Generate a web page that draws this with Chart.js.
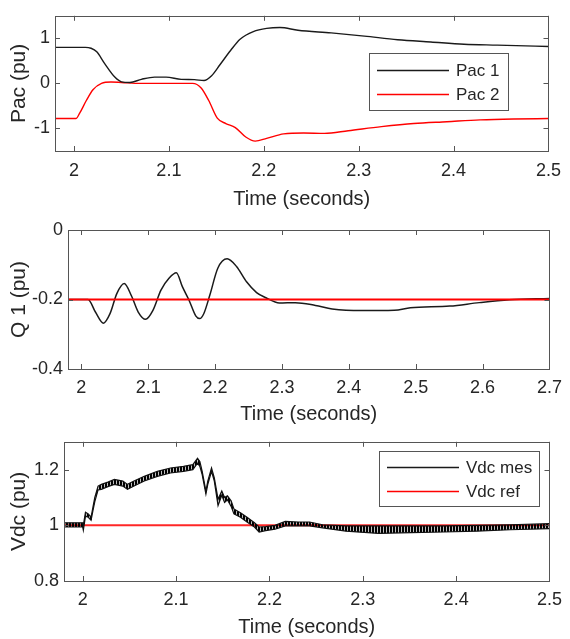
<!DOCTYPE html>
<html>
<head>
<meta charset="utf-8">
<script src="https://cdn.jsdelivr.net/npm/chart.js@4.4.1/dist/chart.umd.min.js"></script>
<title>Pac / Q / Vdc</title>
<style>
  html, body { margin: 0; padding: 0; background: #fff; }
  .panel { position: absolute; left: 0; width: 570px; height: 213px; }
</style>
</head>
<body>
<div class="panel" style="top:0px"><canvas id="c1"></canvas></div>
<div class="panel" style="top:213px"><canvas id="c2"></canvas></div>
<div class="panel" style="top:426px"><canvas id="c3"></canvas></div>
<script>
// ---- data ----
// panel 1 : active power
var pac1Time = [1.98, 2.0, 2.012, 2.018, 2.024, 2.032, 2.043, 2.05, 2.059, 2.071, 2.085, 2.097, 2.113, 2.127, 2.137, 2.145, 2.154, 2.165, 2.175, 2.189, 2.203, 2.217, 2.236, 2.271, 2.306, 2.341, 2.376, 2.411, 2.446, 2.5];
var pac1 = [0.80, 0.80, 0.80, 0.78, 0.70, 0.45, 0.14, 0.035, 0.02, 0.09, 0.14, 0.14, 0.09, 0.084, 0.063, 0.17, 0.42, 0.73, 0.98, 1.15, 1.22, 1.24, 1.18, 1.12, 1.05, 0.97, 0.92, 0.87, 0.85, 0.82];
var pac2Time = [1.98, 2.002, 2.006, 2.013, 2.02, 2.029, 2.039, 2.05, 2.07, 2.1, 2.125, 2.134, 2.142, 2.151, 2.16, 2.17, 2.181, 2.191, 2.203, 2.221, 2.242, 2.264, 2.289, 2.324, 2.358, 2.393, 2.428, 2.463, 2.5];
var pac2 = [-0.78, -0.78, -0.66, -0.38, -0.14, 0.0, 0.03, 0.02, 0.0, 0.0, 0.0, -0.1, -0.38, -0.77, -0.89, -0.98, -1.19, -1.28, -1.22, -1.12, -1.10, -1.11, -1.05, -0.96, -0.89, -0.85, -0.81, -0.79, -0.78];

// panel 2 : reactive power
var q1Time = [1.98, 2.01, 2.021, 2.033, 2.043, 2.053, 2.064, 2.075, 2.085, 2.096, 2.107, 2.119, 2.131, 2.142, 2.151, 2.161, 2.171, 2.177, 2.183, 2.192, 2.204, 2.218, 2.232, 2.247, 2.262, 2.276, 2.296, 2.32, 2.35, 2.375, 2.419, 2.468, 2.492, 2.551, 2.595, 2.64, 2.7];
var q1 = [-0.2, -0.2, -0.236, -0.268, -0.24, -0.183, -0.154, -0.19, -0.236, -0.257, -0.231, -0.173, -0.139, -0.123, -0.163, -0.202, -0.247, -0.255, -0.241, -0.188, -0.11, -0.083, -0.105, -0.149, -0.18, -0.195, -0.21, -0.209, -0.217, -0.227, -0.232, -0.231, -0.224, -0.219, -0.209, -0.201, -0.197];
var qRefTime = [1.98, 2.7];
var qRef = [-0.2, -0.2];

// panel 3 : dc voltage (ripple band: upper / lower envelope)
var vdcTime = [1.98, 2.0, 2.0007, 2.003, 2.006, 2.009, 2.011, 2.013, 2.0165, 2.02, 2.027, 2.034, 2.043, 2.048, 2.055, 2.066, 2.08, 2.094, 2.108, 2.118, 2.123, 2.1255, 2.128, 2.132, 2.134, 2.138, 2.141, 2.145, 2.149, 2.152, 2.155, 2.159, 2.162, 2.169, 2.176, 2.184, 2.189, 2.196, 2.206, 2.217, 2.231, 2.243, 2.257, 2.282, 2.317, 2.352, 2.387, 2.422, 2.458, 2.5];
var vdcHigh = [1.009, 1.009, 1.0, 1.047, 1.041, 1.029, 1.065, 1.10, 1.141, 1.147, 1.155, 1.165, 1.159, 1.147, 1.159, 1.176, 1.194, 1.206, 1.212, 1.218, 1.241, 1.229, 1.194, 1.123, 1.159, 1.206, 1.17, 1.094, 1.123, 1.10, 1.106, 1.088, 1.059, 1.045, 1.029, 1.009, 0.994, 0.995, 1.0, 1.014, 1.012, 1.012, 1.002, 0.998, 0.998, 0.998, 0.998, 1.0, 1.002, 1.006];
var vdcLow = [0.994, 0.994, 0.982, 1.033, 1.029, 1.018, 1.053, 1.085, 1.127, 1.129, 1.139, 1.147, 1.141, 1.129, 1.141, 1.159, 1.176, 1.188, 1.194, 1.20, 1.223, 1.212, 1.182, 1.112, 1.147, 1.194, 1.159, 1.071, 1.108, 1.082, 1.092, 1.068, 1.041, 1.029, 1.012, 0.994, 0.976, 0.981, 0.986, 0.998, 0.998, 0.998, 0.991, 0.979, 0.971, 0.974, 0.976, 0.979, 0.984, 0.988];
var vdcRefTime = [1.98, 2.5];
var vdcRef = [1, 1];

// ticks
var xTicks1 = [2, 2.1, 2.2, 2.3, 2.4, 2.5];
var xTicks2 = [2, 2.1, 2.2, 2.3, 2.4, 2.5, 2.6, 2.7];
var yTicks1 = [-1, 0, 1];
var yTicks2 = [-0.4, -0.2, 0];
var yTicks3 = [0.8, 1, 1.2];

var FONT = "'Liberation Sans', Arial, sans-serif";
var INK = '#262626';
var FRAME = '#555555';

function pts(t, v) {
    return t.map(function (x, i) { return {x: x, y: v[i]}; });
}
function fmt(v) { return String(Number(v.toFixed(2))); }

// dense vertical hatching to look like the switching ripple band
function ripplePattern() {
    var c = document.createElement('canvas');
    c.width = 3; c.height = 4;
    var g = c.getContext('2d');
    g.fillStyle = 'rgba(0,0,0,0.25)';
    g.fillRect(0, 0, 3, 4);
    g.fillStyle = '#000';
    g.fillRect(0, 0, 2, 4);
    return g.createPattern(c, 'repeat');
}

// box around the axes, inward tick marks, legend inside the axes (matlab look)
var boxPlugin = {
    id: 'box',
    afterDatasetsDraw: function (chart) {
        var a = chart.chartArea, ctx = chart.ctx;
        var xs = chart.scales.x, ys = chart.scales.y;
        ctx.save();
        ctx.strokeStyle = FRAME;
        ctx.lineWidth = 1;
        ctx.beginPath();
        xs.ticks.forEach(function (t) {
            var p = Math.round(xs.getPixelForValue(t.value)) + 0.5;
            ctx.moveTo(p, a.bottom); ctx.lineTo(p, a.bottom - 5);
            ctx.moveTo(p, a.top); ctx.lineTo(p, a.top + 5);
        });
        ys.ticks.forEach(function (t) {
            var p = Math.round(ys.getPixelForValue(t.value)) + 0.5;
            ctx.moveTo(a.left, p); ctx.lineTo(a.left + 5, p);
            ctx.moveTo(a.right, p); ctx.lineTo(a.right - 5, p);
        });
        ctx.stroke();
        ctx.strokeRect(Math.round(a.left) + 0.5, Math.round(a.top) + 0.5,
                       Math.round(a.right - a.left), Math.round(a.bottom - a.top));
        ctx.restore();
    },
    afterDraw: function (chart) {
        var lg = chart.options.plugins.box && chart.options.plugins.box.legend;
        if (!lg) return;
        var a = chart.chartArea, ctx = chart.ctx;
        var x0 = a.left + lg.left, y0 = a.top + lg.top;
        ctx.save();
        ctx.fillStyle = '#fff';
        ctx.fillRect(x0, y0, lg.width, lg.height);
        ctx.strokeStyle = FRAME;
        ctx.lineWidth = 1;
        ctx.strokeRect(Math.round(x0) + 0.5, Math.round(y0) + 0.5, lg.width, lg.height);
        ctx.font = '17px ' + FONT;
        ctx.textBaseline = 'middle';
        lg.items.forEach(function (it, i) {
            var y = Math.round(y0 + lg.row0 + i * lg.rowStep) + 0.5;
            ctx.strokeStyle = it.color;
            ctx.lineWidth = 1.3;
            ctx.beginPath();
            ctx.moveTo(x0 + 8, y); ctx.lineTo(x0 + 8 + lg.lineLen, y);
            ctx.stroke();
            ctx.fillStyle = INK;
            ctx.fillText(it.label, x0 + 8 + lg.lineLen + 7, y + 1);
        });
        ctx.restore();
    }
};

function makeChart(id, cfg) {
    return new Chart(document.getElementById(id), {
        type: 'line',
        data: { datasets: cfg.datasets },
        plugins: [boxPlugin],
        options: {
            responsive: true,
            maintainAspectRatio: false,
            animation: false,
            layout: { padding: { top: cfg.top, right: cfg.right, left: 0, bottom: 0 } },
            elements: { point: { radius: 0 } },
            plugins: {
                legend: { display: false },
                tooltip: { enabled: false },
                box: { legend: cfg.legend }
            },
            scales: {
                x: {
                    type: 'linear',
                    min: cfg.xMin, max: cfg.xMax,
                    grid: { display: false, drawTicks: false },
                    border: { display: false },
                    afterBuildTicks: function (s) { s.ticks = cfg.xTicks.map(function (v) { return {value: v}; }); },
                    afterFit: function (s) { s.height = cfg.xHeight; },
                    ticks: { color: INK, font: { family: FONT, size: 18 }, padding: cfg.xTickPad, maxRotation: 0, autoSkip: false,
                             callback: function (v) { return fmt(v); } },
                    title: { display: true, text: 'Time (seconds)', color: INK,
                             font: { family: FONT, size: 20 }, padding: { top: 0, bottom: cfg.xTitlePad } }
                },
                y: {
                    min: cfg.yMin, max: cfg.yMax,
                    grid: { display: false, drawTicks: false },
                    border: { display: false },
                    afterBuildTicks: function (s) { s.ticks = cfg.yTicks.map(function (v) { return {value: v}; }); },
                    afterFit: function (s) { s.width = cfg.yWidth; },
                    ticks: { color: INK, font: { family: FONT, size: 18 }, padding: 5, autoSkip: false,
                             callback: function (v) { return fmt(v); } },
                    title: { display: true, text: cfg.yTitle, color: INK,
                             font: { family: FONT, size: 21 }, padding: { top: 7, bottom: 0 } }
                }
            }
        }
    });
}

makeChart('c1', {
    top: 8, right: 17, xHeight: 62, yWidth: 55, xTickPad: 9, xTitlePad: 2,
    xMin: 1.98, xMax: 2.5, yMin: -1.5, yMax: 1.5,
    xTicks: xTicks1, yTicks: yTicks1, yTitle: 'Pac (pu)',
    datasets: [
        { label: 'Pac 1', data: pts(pac1Time, pac1), borderColor: '#1a1a1a', borderWidth: 1.4, cubicInterpolationMode: 'monotone' },
        { label: 'Pac 2', data: pts(pac2Time, pac2), borderColor: '#ff0000', borderWidth: 1.4, cubicInterpolationMode: 'monotone' }
    ],
    legend: { left: 314, top: 37, width: 139, height: 57, row0: 17, rowStep: 24, lineLen: 72,
              items: [{label: 'Pac 1', color: '#1a1a1a'}, {label: 'Pac 2', color: '#ff0000'}] }
});

makeChart('c2', {
    top: 17, right: 14, xHeight: 57, yWidth: 68, xTickPad: 8, xTitlePad: 0,
    xMin: 1.98, xMax: 2.7, yMin: -0.4, yMax: 0,
    xTicks: xTicks2, yTicks: yTicks2, yTitle: 'Q 1 (pu)',
    datasets: [
        { label: 'Q ref', data: pts(qRefTime, qRef), borderColor: '#ff0000', borderWidth: 2 },
        { label: 'Q 1', data: pts(q1Time, q1), borderColor: '#1a1a1a', borderWidth: 1.5, cubicInterpolationMode: 'monotone' }
    ]
});

makeChart('c3', {
    top: 15, right: 13, xHeight: 58, yWidth: 64, xTickPad: 8, xTitlePad: 0,
    xMin: 1.98, xMax: 2.5, yMin: 0.8, yMax: 1.3,
    xTicks: xTicks1, yTicks: yTicks3, yTitle: 'Vdc (pu)',
    datasets: [
        { label: 'Vdc mes high', data: pts(vdcTime, vdcHigh), borderColor: '#111', borderWidth: 1.2 },
        { label: 'Vdc mes low', data: pts(vdcTime, vdcLow), borderColor: '#111', borderWidth: 1.2,
          fill: '-1', backgroundColor: ripplePattern() },
        { label: 'Vdc ref', data: pts(vdcRefTime, vdcRef), borderColor: 'rgba(255,0,0,0.85)', borderWidth: 2 }
    ],
    legend: { left: 315, top: 9, width: 160, height: 55, row0: 16, rowStep: 24, lineLen: 72,
              items: [{label: 'Vdc mes', color: '#1a1a1a'}, {label: 'Vdc ref', color: '#ff0000'}] }
});
</script>
</body>
</html>
